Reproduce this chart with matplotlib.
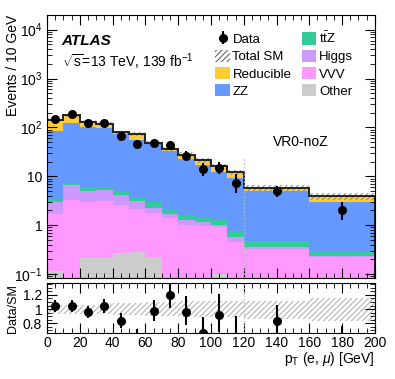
import numpy as np
import matplotlib
matplotlib.use("Agg")
import matplotlib.pyplot as plt
from matplotlib.patches import Patch
from matplotlib.ticker import MultipleLocator, LogLocator, FixedLocator, NullFormatter

plt.rcParams["font.family"] = ["Liberation Sans", "DejaVu Sans"]
plt.rcParams["mathtext.fontset"] = "custom"
plt.rcParams["mathtext.rm"] = "Liberation Sans"
plt.rcParams["mathtext.it"] = "Liberation Sans:italic"
plt.rcParams["mathtext.bf"] = "Liberation Sans:bold"
plt.rcParams["hatch.linewidth"] = 0.7

# bin edges (GeV), events / 10 GeV
edges = [0, 10, 20, 30, 40, 50, 60, 70, 80, 90, 100, 110, 120, 160, 200]
centers = [5, 15, 25, 35, 45, 55, 65, 75, 85, 95, 105, 115, 140, 180]

other = [0.115, 0, 0.215, 0.215, 0.264, 0.277, 0.225, 0, 0, 0, 0.1, 0, 0, 0]
vvv = [1.55, 3.24, 2.79, 2.88, 2.30, 1.91, 1.56, 1.37, 1.03, 0.95, 0.82, 0.457, 0.32, 0.22]
higgs = [1.33, 3.26, 2.0, 2.11, 1.54, 0.94, 0.51, 0.36, 0.23, 0.2, 0.08, 0.119, 0.04, 0.013]
ttz = [0.34, 0.9, 0.9, 0.85, 0.8, 0.65, 0.71, 0.46, 0.39, 0.26, 0.26, 0.18, 0.11, 0.061]
zz = [80.7, 117.6, 95.1, 91, 69.1, 52.2, 42.2, 30.4, 21.4, 15.3, 10.9, 8.6, 4.5, 2.7]
reducible = [60, 53, 31, 22, 6, 18, 3.5, 4.1, 4.7, 4.5, 4.0, 2.8, 0.9, 0.96]

data = [150, 185, 126, 124, 66, 45, 47, 44, 26.5, 14, 14.8, 7.2, 4.9, 2.0]
data_err_lo = [12, 13.6, 11, 11, 8, 6.7, 6.8, 6.6, 5.1, 3.7, 3.8, 2.6, 1.1, 0.7]
data_err_hi = [13, 14.6, 12, 12, 9, 7.8, 7.9, 7.7, 6.2, 4.8, 4.9, 3.8, 1.3, 1.0]

# relative uncertainty on total SM
unc_hi = [0.06, 0.06, 0.06, 0.07, 0.08, 0.09, 0.10, 0.10, 0.11, 0.11, 0.11, 0.11, 0.12, 0.16]
unc_lo = [0.07, 0.07, 0.07, 0.07, 0.08, 0.09, 0.10, 0.10, 0.11, 0.11, 0.11, 0.11, 0.14, 0.17]

names = ["Other", "VVV", "Higgs", r"t$\bar{\rm t}$Z", "ZZ", "Reducible"]
colors = ["#cccccc", "#ff99ff", "#cc99ff", "#33cc99", "#6699ff", "#ffcc33"]
stack = np.cumsum(np.array([other, vvv, higgs, ttz, zz, reducible]), axis=0)
total = stack[-1]

fig = plt.figure(figsize=(3.95, 3.79), dpi=100)
ax = fig.add_axes([0.119, 0.2665, 0.830, 0.694])
rax = fig.add_axes([0.119, 0.1214, 0.830, 0.132])

for i in range(len(names) - 1, -1, -1):
    ax.stairs(stack[i], edges, baseline=1e-3, fill=True, color=colors[i], lw=0)

# total SM uncertainty band
ax.stairs(total * (1 + np.array(unc_hi)), edges, baseline=total * (1 - np.array(unc_lo)),
          fill=True, facecolor="none", edgecolor="#888888", hatch="//////", lw=0)
ax.stairs(total, edges, color="#222222", lw=1.4)
ax.axvline(120, ymax=0.455, color="#bbbbbb", ls=":", lw=1)

eb = ax.errorbar(centers, data, yerr=[data_err_lo, data_err_hi], fmt="o", color="black",
                 ms=5.5, elinewidth=1.5, capsize=0)

ax.set_yscale("log")
ax.set_xlim(0, 200)
ax.set_ylim(0.083, 2e4)
fig.text(0.032, 0.962, "Events / 10 GeV", rotation=90, ha="center", va="top", fontsize=10)

def log_fmt(v, pos):
    e = int(round(np.log10(v)))
    if e == 0:
        return "1"
    if e == 1:
        return "10"
    return r"$10^{%d}$" % e

ax.yaxis.set_major_locator(LogLocator(base=10, numticks=10))
ax.yaxis.set_major_formatter(plt.FuncFormatter(log_fmt))
ax.yaxis.set_minor_locator(LogLocator(base=10, subs=np.arange(2, 10), numticks=20))
ax.yaxis.set_minor_formatter(NullFormatter())
ax.xaxis.set_major_locator(MultipleLocator(20))
ax.xaxis.set_minor_locator(MultipleLocator(5))
ax.tick_params(labelbottom=False)

for a in (ax, rax):
    a.tick_params(which="both", direction="in", top=True, right=True, labelsize=10)
    a.tick_params(which="major", length=7)
    a.tick_params(which="minor", length=3.5)

ax.text(0.045, 0.885, "ATLAS", transform=ax.transAxes, fontsize=11, fontweight="bold", fontstyle="italic")
ax.text(0.045, 0.80, r"$\sqrt{\rm s}$=13 TeV, 139 fb$^{-1}$", transform=ax.transAxes, fontsize=10)
ax.text(0.69, 0.5, "VR0-noZ", transform=ax.transAxes, fontsize=10)

handles = [eb, Patch(facecolor="none", edgecolor="#555555", hatch="//////", lw=0)]
labels = ["Data", "Total SM"]
for i in [5, 4, 3, 2, 1, 0]:
    handles.append(Patch(facecolor=colors[i], lw=0))
    labels.append(names[i])
ax.legend(handles, labels, ncol=2, loc="upper left", bbox_to_anchor=(0.485, 0.975), frameon=False,
          fontsize=9.5, handlelength=1.1, handleheight=1.1, handletextpad=0.2, columnspacing=0.8,
          labelspacing=0.25, borderpad=0.2)

# ratio panel
ratio = np.array(data) / total
rlo = np.array(data_err_lo) / total
rhi = np.array(data_err_hi) / total
rax.stairs(1 + np.array(unc_hi), edges, baseline=1 - np.array(unc_lo), fill=True,
           facecolor="none", edgecolor="#aaaaaa", hatch="//////", lw=0)
rax.axvline(120, color="#bbbbbb", ls=":", lw=1)
rax.errorbar(centers, ratio, yerr=[rlo, rhi], fmt="o", color="black", ms=5.5, elinewidth=1.5, capsize=0,
             clip_on=True)
rax.set_xlim(0, 200)
rax.set_ylim(0.66, 1.37)
rax.yaxis.set_major_locator(FixedLocator([0.8, 1.0, 1.2]))
rax.yaxis.set_major_formatter(plt.FuncFormatter(lambda v, p: "%g" % v))
rax.yaxis.set_minor_locator(MultipleLocator(0.05))
rax.xaxis.set_major_locator(MultipleLocator(20))
rax.xaxis.set_minor_locator(MultipleLocator(5))
rax.tick_params(axis="x", pad=2)
fig.text(0.032, 0.187, "Data/SM", rotation=90, ha="center", va="center", fontsize=9)
rax.set_xlabel(r"p$_{\rm T}$ (e, $\mu$) [GeV]", fontsize=10, loc="right", labelpad=0)

fig.savefig("out.png", dpi=100)
